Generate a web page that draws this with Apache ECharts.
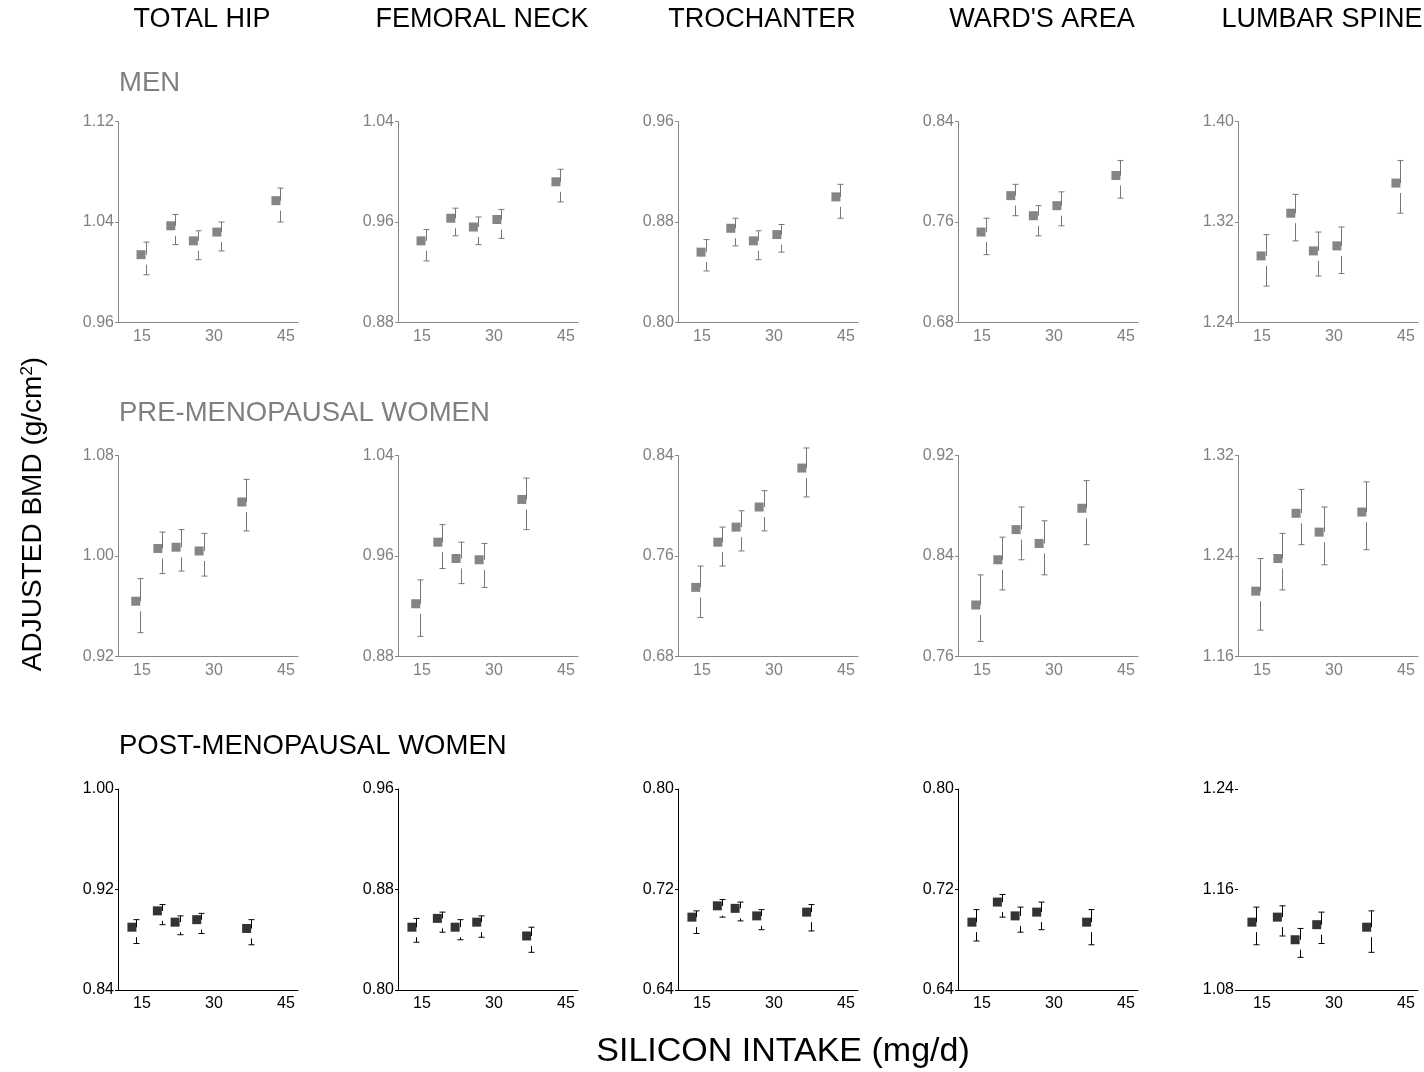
<!DOCTYPE html>
<html>
<head>
<meta charset="utf-8">
<script src="https://cdn.jsdelivr.net/npm/echarts@6/dist/echarts.min.js"></script>
<style>
  html, body { margin: 0; padding: 0; background: #fff; }
  #chart { width: 1424px; height: 1072px; }
</style>
</head>
<body>
<div id="chart"></div>
<script>
// sites (columns) and groups (rows)
const sites = ['TOTAL HIP', 'FEMORAL NECK', 'TROCHANTER', "WARD'S AREA", 'LUMBAR SPINE'];
const groups = ['MEN', 'PRE-MENOPAUSAL WOMEN', 'POST-MENOPAUSAL WOMEN'];
const xTicks = [15, 30, 45];

// silicon intake (mg/d) of each quintile, per group
const menIntake = [14.8, 21.0, 25.7, 30.6, 42.9];
const preIntake = [13.7, 18.3, 22.1, 26.9, 35.8];
const postIntake = [12.9, 18.2, 21.9, 26.4, 36.8];

// y axis minimum per site (range is min .. min + 0.16, step 0.08)
const menYMin = [0.96, 0.88, 0.80, 0.68, 1.24];
const preYMin = [0.92, 0.88, 0.68, 0.76, 1.16];
const postYMin = [0.84, 0.80, 0.64, 0.64, 1.08];

// adjusted BMD, one row per site
const menMean = [
  [1.014, 1.037, 1.025, 1.032, 1.057],
  [0.945, 0.963, 0.956, 0.962, 0.992],
  [0.856, 0.875, 0.865, 0.870, 0.900],
  [0.752, 0.781, 0.765, 0.773, 0.797],
  [1.293, 1.327, 1.297, 1.301, 1.351]
];
const menUpper = [
  [1.024, 1.046, 1.033, 1.040, 1.067],
  [0.954, 0.971, 0.964, 0.970, 1.002],
  [0.866, 0.883, 0.873, 0.878, 0.910],
  [0.763, 0.790, 0.773, 0.784, 0.809],
  [1.310, 1.342, 1.312, 1.316, 1.369]
];
const menLower = [
  [0.998, 1.022, 1.010, 1.017, 1.040],
  [0.929, 0.949, 0.942, 0.947, 0.976],
  [0.841, 0.861, 0.850, 0.856, 0.883],
  [0.734, 0.765, 0.749, 0.757, 0.779],
  [1.269, 1.305, 1.277, 1.279, 1.327]
];

const preMean = [
  [0.964, 1.006, 1.007, 1.004, 1.043],
  [0.922, 0.971, 0.958, 0.957, 1.005],
  [0.735, 0.771, 0.783, 0.799, 0.830],
  [0.801, 0.837, 0.861, 0.850, 0.878],
  [1.212, 1.238, 1.274, 1.259, 1.275]
];
const preUpper = [
  [0.982, 1.019, 1.021, 1.018, 1.061],
  [0.941, 0.985, 0.971, 0.970, 1.022],
  [0.752, 0.783, 0.796, 0.812, 0.846],
  [0.825, 0.855, 0.879, 0.868, 0.900],
  [1.238, 1.258, 1.293, 1.279, 1.299]
];
const preLower = [
  [0.939, 0.986, 0.988, 0.984, 1.020],
  [0.896, 0.950, 0.938, 0.935, 0.981],
  [0.711, 0.752, 0.764, 0.780, 0.807],
  [0.772, 0.813, 0.837, 0.825, 0.849],
  [1.181, 1.213, 1.249, 1.233, 1.245]
];

const postMean = [
  [0.890, 0.903, 0.894, 0.896, 0.889],
  [0.850, 0.857, 0.850, 0.854, 0.843],
  [0.698, 0.707, 0.705, 0.699, 0.702],
  [0.694, 0.710, 0.699, 0.702, 0.694],
  [1.134, 1.138, 1.120, 1.132, 1.130]
];
const postUpper = [
  [0.896, 0.908, 0.899, 0.901, 0.896],
  [0.857, 0.862, 0.856, 0.859, 0.850],
  [0.703, 0.712, 0.710, 0.704, 0.708],
  [0.704, 0.716, 0.706, 0.710, 0.704],
  [1.146, 1.147, 1.129, 1.142, 1.143]
];
const postLower = [
  [0.877, 0.892, 0.884, 0.885, 0.876],
  [0.838, 0.846, 0.840, 0.842, 0.830],
  [0.685, 0.698, 0.695, 0.688, 0.687],
  [0.679, 0.698, 0.686, 0.688, 0.676],
  [1.116, 1.123, 1.106, 1.117, 1.110]
];

const FONT = '"Liberation Sans", Arial, sans-serif';
const colLeft = [118, 398, 678, 958, 1238];
const rowTop = [121.5, 455.5, 789];
const rows = [
  { intake: menIntake, yMin: menYMin, mean: menMean, upper: menUpper, lower: menLower,
    mark: '#666', bar: '#777', axis: '#888', text: '#808080', labelY: 84 },
  { intake: preIntake, yMin: preYMin, mean: preMean, upper: preUpper, lower: preLower,
    mark: '#666', bar: '#777', axis: '#888', text: '#808080', labelY: 414 },
  { intake: postIntake, yMin: postYMin, mean: postMean, upper: postUpper, lower: postLower,
    mark: '#000', bar: '#000', axis: '#000', text: '#000', labelY: 747 }
];

const chart = echarts.init(document.getElementById('chart'));
const grid = [], xAxis = [], yAxis = [], series = [];
const graphic = [];

// error bar drawn a little right of the square, with a gap under it
function errorBar(color) {
  return function (params, api) {
    const c = api.coord([api.value(0), api.value(1)]);
    const hi = api.coord([api.value(0), api.value(2)]);
    const lo = api.coord([api.value(0), api.value(3)]);
    const bx = Math.round(c[0] + 4.5) + 0.5;
    const st = { stroke: color, lineWidth: 1 };
    return {
      type: 'group',
      children: [
        { type: 'line', shape: { x1: bx, y1: hi[1], x2: bx, y2: c[1] }, style: st },
        { type: 'line', shape: { x1: bx - 3, y1: hi[1], x2: bx + 3, y2: hi[1] }, style: st },
        { type: 'line', shape: { x1: bx, y1: c[1] + 10, x2: bx, y2: lo[1] }, style: st },
        { type: 'line', shape: { x1: bx - 3, y1: lo[1], x2: bx + 3, y2: lo[1] }, style: st }
      ]
    };
  };
}

rows.forEach(function (row, r) {
  sites.forEach(function (site, s) {
    const idx = grid.length;
    const yMin = row.yMin[s];
    const yTicks = [yMin, yMin + 0.08, yMin + 0.16];
    const noYLine = (r === 2 && s === 4);
    grid.push({ left: colLeft[s], top: rowTop[r], width: 180, height: 201 });
    xAxis.push({
      gridIndex: idx, type: 'value', min: 10, max: 47.5,
      splitLine: { show: false },
      axisLine: { lineStyle: { color: row.axis, width: 1 } },
      axisTick: { show: false },
      axisLabel: { customValues: xTicks, color: row.text, fontSize: 16, fontFamily: FONT, margin: 6 }
    });
    yAxis.push({
      gridIndex: idx, type: 'value', min: yMin, max: yMin + 0.16,
      splitLine: { show: false },
      axisLine: { show: !noYLine, lineStyle: { color: row.axis, width: 1 } },
      axisTick: { show: true, customValues: yTicks, length: 3, lineStyle: { color: row.axis } },
      axisLabel: {
        customValues: yTicks, color: row.text, fontSize: 16, fontFamily: FONT, margin: 4,
        formatter: function (v) { return v.toFixed(2); }
      }
    });
    const data = row.intake.map(function (x, i) {
      return [x, row.mean[s][i], row.upper[s][i], row.lower[s][i]];
    });
    series.push({
      type: 'custom', xAxisIndex: idx, yAxisIndex: idx,
      renderItem: errorBar(row.bar), data: data, silent: true
    });
    series.push({
      type: 'scatter', xAxisIndex: idx, yAxisIndex: idx,
      symbol: 'rect', symbolSize: 9,
      itemStyle: { color: row.mark },
      data: data.map(function (d) { return [d[0], d[1]]; }), silent: true
    });
  });
  graphic.push({
    type: 'text', left: 119, top: row.labelY - 15,
    style: { text: groups[r], fill: row.text, font: '27.5px ' + FONT }
  });
});

sites.forEach(function (site, s) {
  graphic.push({
    type: 'text', x: colLeft[s] + 84, y: 20,
    style: { text: site, fill: '#000', font: '27px ' + FONT, align: 'center', verticalAlign: 'middle' }
  });
});

graphic.push({
  type: 'text', x: 783, y: 1052,
  style: { text: 'SILICON INTAKE (mg/d)', fill: '#000', font: '34px ' + FONT, align: 'center', verticalAlign: 'middle' }
});
graphic.push({
  type: 'text', x: 33, y: 514, rotation: Math.PI / 2,
  style: {
    text: '{a|ADJUSTED BMD (g/cm}{s|2}{a|)}',
    align: 'center', verticalAlign: 'middle',
    rich: {
      a: { fontSize: 28, fontFamily: FONT, color: '#000', verticalAlign: 'bottom' },
      s: { fontSize: 17, fontFamily: FONT, color: '#000', verticalAlign: 'top' }
    }
  }
});

chart.setOption({
  animation: false,
  backgroundColor: '#fff',
  grid: grid,
  xAxis: xAxis,
  yAxis: yAxis,
  series: series,
  graphic: graphic
});
</script>
</body>
</html>
